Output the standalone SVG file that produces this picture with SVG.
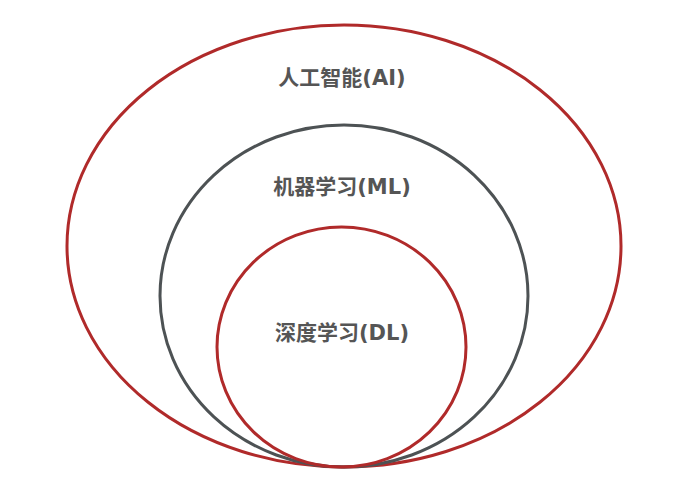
<svg xmlns="http://www.w3.org/2000/svg" width="692" height="485" viewBox="0 0 692 485">
<style>
.red{fill:none;stroke:#b02a2a;stroke-width:3}
.gray{fill:none;stroke:#4d5254;stroke-width:3}
.lbl{font-family:"DejaVu Sans","Noto Sans CJK SC",sans-serif;font-weight:bold;font-size:21px;fill:#555555;text-anchor:middle}
</style>
<rect width="692" height="485" fill="#ffffff"/>
<g id="ai">
<ellipse class="red" cx="344" cy="246" rx="277" ry="221"/>
<text class="lbl" x="342" y="85">人工智能(AI)</text>
</g>
<g id="ml">
<ellipse class="gray" cx="344" cy="296" rx="184" ry="171"/>
<text class="lbl" x="342" y="194">机器学习(ML)</text>
</g>
<g id="dl">
<ellipse class="red" cx="341.5" cy="347" rx="124.5" ry="120"/>
<text class="lbl" x="342" y="340">深度学习(DL)</text>
</g>
<g id="connectors"/>
</svg>
